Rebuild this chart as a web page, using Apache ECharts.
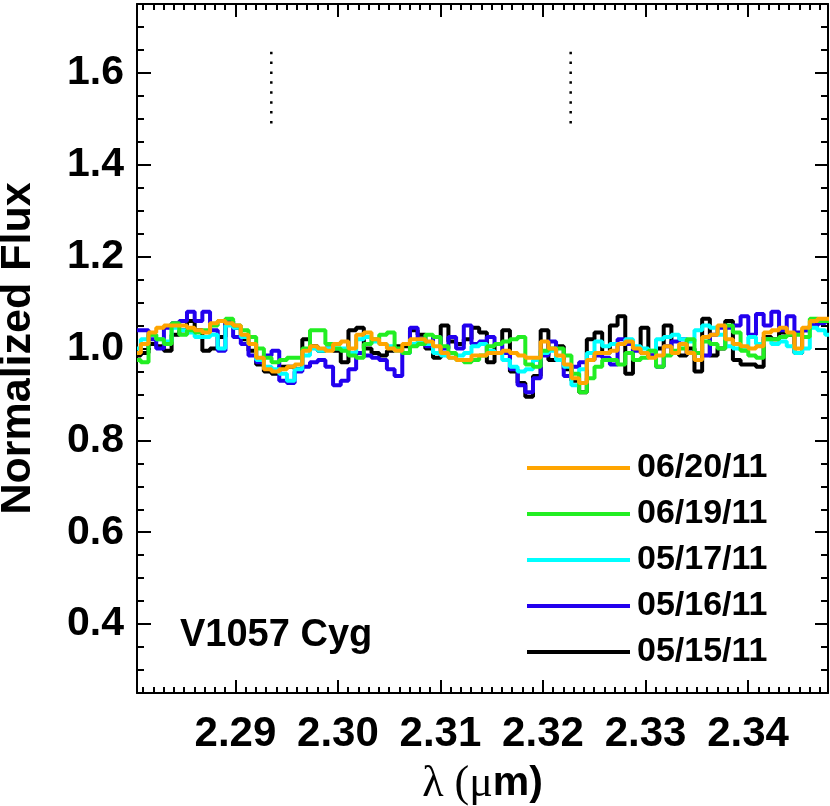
<!DOCTYPE html>
<html>
<head>
<meta charset="utf-8">
<script src="https://cdn.jsdelivr.net/npm/echarts@6/dist/echarts.min.js"></script>
<style>
  html, body { margin: 0; padding: 0; background: #fff; }
  #chart { width: 830px; height: 806px; }
</style>
</head>
<body>
<div id="chart"></div>
<script>
  // wavelength grid of the spectra (micron)
  const lambdaStart = 2.2804
  const lambdaStep = 0.00075

  const names = ['05/15/11', '05/16/11', '05/17/11', '06/19/11', '06/20/11']
  const colors = ['#000000', '#2200EE', '#00FFFF', '#22EE22', '#FFA500']

  const flux0515 = [0.985,0.99,1.01,1.005,0.995,1.03,1.04,1.06,1.04,0.995,1.0,1.025,1.06,1.045,1.02,0.995,0.965,0.95,0.945,0.96,0.96,0.955,1.02,1.005,0.995,1.0,0.995,0.97,1.04,1.045,1.0,0.99,0.985,0.995,1.005,1.005,1.04,1.03,1.0,0.98,1.05,1.015,1.01,1.02,1.045,1.035,0.97,1.01,1.04,0.95,0.925,0.895,0.94,1.04,0.975,1.005,0.955,0.93,0.905,1.02,1.035,0.99,1.05,1.07,0.945,1.0,1.045,0.985,1.0,1.05,0.99,0.985,1.0,0.95,1.065,0.985,1.0,1.06,0.975,0.965,0.965,0.96,1.025,1.02,1.035,1.03,0.99,1.04,1.05,1.06,1.06]
  const flux0516 = [1.04,1.04,1.02,1.0,1.045,1.055,1.06,1.08,1.06,1.08,1.04,0.995,1.06,1.025,1.01,0.985,0.97,0.985,0.995,0.93,0.925,0.95,0.96,0.97,0.975,0.96,0.92,0.93,0.955,0.99,0.985,0.98,0.975,0.955,0.94,0.99,1.045,1.02,1.005,1.025,1.0,1.025,1.0,1.05,1.01,1.015,1.025,1.01,0.99,0.955,0.92,0.905,0.935,0.985,1.015,0.975,0.94,0.96,0.97,0.975,0.985,0.98,0.965,1.02,1.01,0.995,0.99,0.985,0.96,1.005,1.015,1.02,0.99,0.99,0.985,1.03,1.045,1.045,1.05,1.07,1.03,1.075,1.05,1.08,1.04,1.07,1.035,1.04,1.05,1.055,1.06]
  const flux0517 = [1.0,1.02,1.03,1.02,1.015,1.045,1.04,1.035,1.025,1.025,1.03,1.0,1.05,1.045,1.025,1.01,0.975,0.96,0.955,0.945,0.93,0.955,0.985,1.0,0.995,1.0,1.0,1.0,0.99,1.02,1.025,1.015,1.01,1.005,0.995,0.99,1.01,1.015,1.01,0.99,0.985,0.98,0.985,0.99,1.005,1.01,0.995,0.99,0.975,0.96,0.95,0.955,0.975,0.99,0.995,0.975,0.96,0.92,0.955,0.99,1.015,1.005,1.01,1.01,1.02,1.005,1.0,0.995,1.02,1.025,1.03,1.02,1.015,1.04,1.05,1.045,1.03,1.005,1.0,1.0,1.025,1.01,1.02,1.01,1.015,1.005,0.99,1.0,1.045,1.04,1.03]
  const flux0619 = [0.975,0.97,1.03,1.02,1.01,1.055,1.03,1.04,1.035,1.04,1.05,1.06,1.065,1.05,1.04,1.025,1.0,0.98,0.97,0.975,0.98,0.98,1.0,1.04,1.04,1.01,1.0,0.995,0.985,0.98,1.01,1.02,1.03,1.035,1.0,0.99,1.005,1.01,1.03,1.025,1.005,0.99,0.975,0.97,0.975,0.985,1.005,1.01,1.015,1.02,1.025,0.965,0.96,0.995,1.0,1.0,0.985,0.945,0.905,0.935,0.96,0.975,0.975,0.965,0.99,0.975,0.98,0.995,0.96,0.985,0.995,1.0,1.02,0.99,1.015,1.01,1.0,1.05,1.035,0.995,0.985,0.98,1.02,1.02,1.025,1.03,1.03,1.025,1.065,1.06,1.06]
  const flux0620 = [0.99,1.01,1.035,1.045,1.05,1.05,1.05,1.045,1.04,1.035,1.055,1.06,1.055,1.05,1.03,1.01,0.98,0.955,0.95,0.955,0.96,0.965,0.995,1.005,1.0,0.995,1.01,1.015,1.0,1.03,1.035,1.02,1.01,1.0,0.995,1.01,1.02,1.02,1.015,1.005,0.99,0.98,0.975,0.975,0.985,0.985,0.99,0.99,0.995,0.99,0.985,0.98,0.98,1.015,1.0,0.985,0.965,0.935,0.925,0.975,0.99,0.99,0.995,1.01,1.015,1.0,0.99,0.98,0.985,1.005,0.99,1.01,0.99,0.975,1.025,1.03,1.05,1.02,1.01,1.005,1.0,1.005,1.035,1.04,1.045,1.035,1.0,1.045,1.06,1.065,1.065]

  // CO bandhead markers
  const bandheads = [2.2935, 2.3227]
  const markerRange = [1.49, 1.66]

  const xTickLabels = [2.29, 2.30, 2.31, 2.32, 2.33, 2.34]
  const yTickLabels = [0.4, 0.6, 0.8, 1.0, 1.2, 1.4, 1.6]

  const xMin = 2.2804, xMax = 2.3478
  const yMin = 0.25, yMax = 1.75

  let xMinor = []
  for (let v = 2.281; v < xMax; v += 0.001) xMinor.push(+v.toFixed(3))
  let yMinor = []
  for (let v = 0.3; v < yMax; v += 0.05) yMinor.push(+v.toFixed(2))

  const fluxes = [flux0515, flux0516, flux0517, flux0619, flux0620]
  const font = 'Liberation Sans, Arial, Helvetica, sans-serif'

  let series = []
  for (let idx in fluxes) {
    series.push({
      name: names[idx],
      type: 'line',
      step: 'middle',
      showSymbol: false,
      silent: true,
      animation: false,
      color: colors[idx],
      lineStyle: {color: colors[idx], width: 4},
      data: fluxes[idx].map((f, i) => [lambdaStart + i * lambdaStep, f])
    })
  }
  for (let b of bandheads) {
    series.push({
      type: 'line',
      showSymbol: false,
      silent: true,
      animation: false,
      lineStyle: {color: '#000', width: 2.5, type: [2.5, 7.4]},
      data: [[b, markerRange[0]], [b, markerRange[1]]]
    })
  }

  function axisBase(pos, min, max) {
    return {
      type: 'value', position: pos, min: min, max: max,
      axisLine: {show: true, onZero: false, lineStyle: {color: '#000', width: 2}},
      splitLine: {show: false},
      axisLabel: {show: false},
    }
  }

  function majorAxis(pos, min, max, ticks, len, labels) {
    let a = axisBase(pos, min, max)
    a.axisTick = {show: true, inside: true, length: len, customValues: ticks, lineStyle: {color: '#000', width: 2}}
    if (labels) a.axisLabel = labels
    return a
  }

  function minorAxis(pos, min, max, ticks, len) {
    let a = axisBase(pos, min, max)
    a.axisLine.show = false
    a.axisTick = {show: true, inside: true, length: len, customValues: ticks, lineStyle: {color: '#000', width: 2}}
    return a
  }

  let xMainAxis = majorAxis('bottom', xMin, xMax, xTickLabels, 13, {
    show: true, customValues: xTickLabels, margin: 20,
    formatter: v => v.toFixed(2),
    color: '#000', fontSize: 42, fontWeight: 'bold', fontFamily: font
  })
  xMainAxis.name = '{l|λ (}{m|μ}{b|m)}'
  xMainAxis.nameLocation = 'middle'
  xMainAxis.nameGap = 69
  xMainAxis.nameTextStyle = {
    rich: {
      l: {fontFamily: 'Liberation Serif, Times New Roman, serif', fontSize: 44, color: '#000'},
      m: {fontFamily: 'Liberation Serif, Times New Roman, serif', fontSize: 44, color: '#000'},
      b: {fontFamily: font, fontSize: 41, fontWeight: 'bold', color: '#000'}
    }
  }

  let yMainAxis = majorAxis('left', yMin, yMax, yTickLabels, 14, {
    show: true, customValues: yTickLabels, margin: 13,
    formatter: v => v.toFixed(1),
    color: '#000', fontSize: 41, fontWeight: 'bold', fontFamily: font
  })
  yMainAxis.name = 'Normalized Flux'
  yMainAxis.nameLocation = 'middle'
  yMainAxis.nameRotate = 90
  yMainAxis.nameGap = 97
  yMainAxis.nameTextStyle = {color: '#000', fontSize: 43, fontWeight: 'bold', fontFamily: font}

  let option = {
    animation: false,
    backgroundColor: '#fff',
    grid: {left: 137, right: 2, top: 4, bottom: 113, containLabel: false, outerBoundsMode: 'none'},
    title: {
      text: 'V1057 Cyg', left: 175, top: 612,
      textStyle: {color: '#000', fontSize: 38, fontWeight: 'bold', fontFamily: font}
    },
    legend: {
      data: ['06/20/11', '06/19/11', '05/17/11', '05/16/11', '05/15/11'],
      orient: 'vertical', left: 522, top: 440,
      icon: 'rect', itemWidth: 103, itemHeight: 4, itemGap: 0,
      selectedMode: false,
      textStyle: {color: '#000', fontSize: 34, fontWeight: 'bold', fontFamily: font, lineHeight: 46, padding: [0, 0, 0, 2]}
    },
    xAxis: [
      xMainAxis,
      minorAxis('bottom', xMin, xMax, xMinor, 6),
      majorAxis('top', xMin, xMax, xTickLabels, 13),
      minorAxis('top', xMin, xMax, xMinor, 6)
    ],
    yAxis: [
      yMainAxis,
      minorAxis('left', yMin, yMax, yMinor, 7),
      majorAxis('right', yMin, yMax, yTickLabels, 13),
      minorAxis('right', yMin, yMax, yMinor, 7)
    ],
    series: series
  }

  let chart = echarts.init(document.getElementById('chart'))
  chart.setOption(option)
</script>
</body>
</html>
